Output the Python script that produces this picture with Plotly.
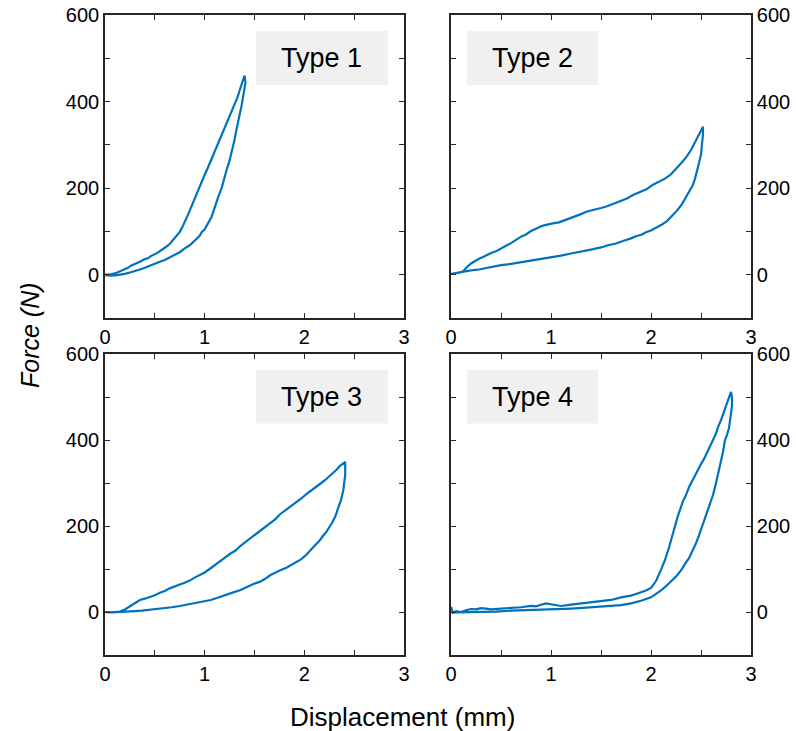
import plotly.graph_objects as go

# Force-displacement hysteresis loops for four specimen types
# Loading branch (upper) followed by unloading branch (lower), displacement in mm, force in N

t1_load_x = [0, 0.03, 0.06, 0.1, 0.13, 0.16, 0.2, 0.23, 0.26, 0.3, 0.33, 0.36, 0.4, 0.43, 0.46, 0.5, 0.53, 0.56, 0.6, 0.63, 0.66, 0.7, 0.73, 0.75, 0.78, 0.8, 0.83, 0.85, 0.88, 0.9, 0.93, 0.95, 0.98, 1.0, 1.03, 1.05, 1.08, 1.1, 1.13, 1.15, 1.18, 1.2, 1.23, 1.25, 1.28, 1.3, 1.33, 1.35, 1.37, 1.39, 1.4]
t1_load_y = [0, 0, 1, 3, 6, 10, 14, 16, 21, 25, 27, 31, 36, 38, 43, 47, 51, 56, 62, 67, 74, 84, 92, 99, 112, 121, 137, 148, 165, 176, 194, 204, 220, 231, 246, 257, 272, 285, 298, 310, 326, 337, 353, 365, 380, 394, 410, 425, 438, 452, 460]
t1_unload_x = [1.4, 1.41, 1.4, 1.39, 1.38, 1.37, 1.36, 1.34, 1.33, 1.31, 1.3, 1.28, 1.26, 1.25, 1.22, 1.2, 1.17, 1.14, 1.12, 1.09, 1.07, 1.04, 1.0, 0.97, 0.95, 0.92, 0.9, 0.85, 0.8, 0.75, 0.7, 0.65, 0.6, 0.55, 0.5, 0.45, 0.4, 0.35, 0.3, 0.25, 0.2, 0.16, 0.12, 0.06, 0]
t1_unload_y = [460, 445, 428, 415, 398, 390, 380, 360, 346, 325, 312, 290, 275, 264, 242, 225, 200, 182, 166, 148, 134, 121, 105, 98, 90, 83, 78, 68, 61, 52, 46, 40, 34, 30, 25, 20, 16, 12, 8, 5, 2, 0, -1, -2, -1]

t2_load_x = [0, 0.05, 0.1, 0.13, 0.16, 0.2, 0.24, 0.28, 0.32, 0.36, 0.4, 0.45, 0.49, 0.55, 0.6, 0.65, 0.7, 0.75, 0.8, 0.85, 0.89, 0.93, 0.96, 1.0, 1.03, 1.08, 1.15, 1.22, 1.3, 1.36, 1.42, 1.5, 1.56, 1.62, 1.7, 1.76, 1.82, 1.9, 1.96, 2.02, 2.08, 2.14, 2.2, 2.26, 2.31, 2.36, 2.4, 2.44, 2.47, 2.5, 2.52]
t2_load_y = [2, 4, 5, 10, 18, 26, 32, 37, 41, 46, 50, 54, 60, 67, 73, 81, 88, 93, 101, 106, 111, 114, 116, 118, 119, 121, 127, 132, 140, 146, 149, 154, 158, 163, 171, 176, 184, 193, 198, 208, 215, 222, 232, 246, 260, 274, 288, 306, 320, 334, 342]
t2_unload_x = [2.52, 2.52, 2.51, 2.5, 2.48, 2.46, 2.44, 2.42, 2.39, 2.37, 2.34, 2.31, 2.26, 2.21, 2.16, 2.11, 2.05, 2.0, 1.95, 1.91, 1.85, 1.8, 1.72, 1.65, 1.57, 1.5, 1.4, 1.3, 1.2, 1.1, 1.0, 0.9, 0.8, 0.69, 0.6, 0.5, 0.4, 0.28, 0.2, 0.1, 0.05, 0]
t2_unload_y = [342, 325, 300, 278, 258, 238, 222, 208, 196, 185, 173, 163, 148, 135, 124, 116, 108, 102, 98, 93, 89, 84, 78, 72, 68, 63, 58, 54, 49, 44, 40, 37, 33, 28, 25, 22, 17, 12, 10, 6, 3, 2]

t3_load_x = [0, 0.05, 0.1, 0.15, 0.2, 0.24, 0.28, 0.32, 0.35, 0.4, 0.45, 0.5, 0.55, 0.6, 0.65, 0.7, 0.75, 0.8, 0.85, 0.9, 0.95, 1.0, 1.05, 1.1, 1.15, 1.2, 1.26, 1.31, 1.36, 1.41, 1.46, 1.51, 1.56, 1.61, 1.66, 1.71, 1.76, 1.82, 1.87, 1.92, 1.97, 2.02, 2.07, 2.12, 2.17, 2.21, 2.25, 2.29, 2.32, 2.35, 2.37, 2.39, 2.41]
t3_load_y = [0, -1, 0, 1, 6, 12, 18, 23, 28, 31, 35, 39, 45, 49, 55, 60, 64, 68, 73, 80, 86, 92, 100, 108, 117, 126, 136, 143, 154, 163, 172, 182, 191, 198, 208, 216, 228, 238, 248, 256, 264, 274, 282, 291, 300, 307, 315, 322, 330, 338, 342, 346, 349]
t3_unload_x = [2.41, 2.41, 2.41, 2.4, 2.39, 2.37, 2.35, 2.33, 2.31, 2.28, 2.25, 2.22, 2.18, 2.15, 2.11, 2.07, 2.02, 1.97, 1.92, 1.87, 1.82, 1.77, 1.72, 1.66, 1.6, 1.55, 1.5, 1.43, 1.36, 1.28, 1.2, 1.13, 1.06, 0.98, 0.9, 0.82, 0.75, 0.67, 0.6, 0.52, 0.45, 0.37, 0.3, 0.22, 0.14, 0.07, 0]
t3_unload_y = [349, 335, 318, 300, 282, 262, 248, 236, 222, 208, 196, 186, 175, 165, 156, 145, 133, 123, 116, 108, 103, 98, 92, 86, 76, 70, 66, 58, 51, 45, 38, 33, 28, 24, 20, 17, 14, 11, 9, 6, 5, 3, 2, 1, 0, -1, 0]

t4_load_x = [0, 0.02, 0.05, 0.1, 0.15, 0.2, 0.25, 0.3, 0.35, 0.4, 0.5, 0.6, 0.7, 0.8, 0.85, 0.9, 0.95, 1.0, 1.05, 1.1, 1.2, 1.3, 1.4, 1.5, 1.6, 1.7, 1.8, 1.85, 1.9, 1.95, 2.0, 2.05, 2.1, 2.14, 2.18, 2.22, 2.27, 2.32, 2.35, 2.38, 2.44, 2.5, 2.53, 2.56, 2.62, 2.65, 2.67, 2.7, 2.72, 2.74, 2.76, 2.78, 2.8]
t4_load_y = [12, -2, 2, 0, 4, 7, 6, 9, 8, 6, 8, 9, 11, 14, 13, 17, 20, 18, 16, 14, 17, 20, 22, 26, 28, 34, 38, 42, 46, 50, 56, 72, 98, 121, 150, 184, 224, 258, 272, 290, 318, 344, 356, 372, 400, 415, 430, 446, 460, 470, 487, 500, 512]
t4_unload_x = [2.8, 2.81, 2.81, 2.8, 2.79, 2.78, 2.76, 2.74, 2.72, 2.7, 2.68, 2.65, 2.62, 2.58, 2.55, 2.52, 2.48, 2.45, 2.41, 2.38, 2.34, 2.31, 2.26, 2.2, 2.15, 2.1, 2.05, 2.0, 1.9, 1.8, 1.7, 1.6, 1.5, 1.35, 1.2, 1.05, 0.9, 0.75, 0.6, 0.45, 0.3, 0.2, 0.1, 0.05, 0]
t4_unload_y = [512, 500, 480, 462, 445, 428, 412, 400, 372, 350, 326, 300, 272, 245, 220, 200, 178, 160, 140, 125, 112, 100, 85, 70, 60, 50, 42, 34, 26, 20, 16, 14, 12, 10, 8, 7, 5, 4, 3, 1, 0, -1, -2, -1, 0]

panel_labels = ["Type 1", "Type 2", "Type 3", "Type 4"]
x_ticks = [0, 0.5, 1, 1.5, 2, 2.5, 3]
x_ticktext = ["0", "", "1", "", "2", "", "3"]
y_ticks = [0, 100, 200, 300, 400, 500, 600]
y_ticktext = ["0", "", "200", "", "400", "", "600"]

loops = [
    (t1_load_x + t1_unload_x, t1_load_y + t1_unload_y),
    (t2_load_x + t2_unload_x, t2_load_y + t2_unload_y),
    (t3_load_x + t3_unload_x, t3_load_y + t3_unload_y),
    (t4_load_x + t4_unload_x, t4_load_y + t4_unload_y),
]

W, H = 796, 731
FONT = "Liberation Sans, Arial, Helvetica, sans-serif"
AXC = "#262626"
LINE = "#0072BD"

# panel rectangles in pixels: (left, right, top, bottom)
boxes = [(105, 404, 15, 318), (451, 751, 15, 318), (105, 404, 354, 655), (451, 751, 354, 655)]

fig = go.Figure()
for i, (xs, ys) in enumerate(loops):
    n = "" if i == 0 else str(i + 1)
    fig.add_trace(go.Scatter(x=xs, y=ys, mode="lines", xaxis="x" + n, yaxis="y" + n,
                             line=dict(color=LINE, width=2.2), showlegend=False, hoverinfo="skip"))

axis_common = dict(showline=True, linecolor=AXC, linewidth=1.6, mirror="allticks", ticks="inside",
                   ticklen=5, tickwidth=1.4, tickcolor=AXC, showgrid=False, zeroline=False,
                   automargin=False, tickfont=dict(family=FONT, size=20, color="black"))

layout = dict(width=W, height=H, margin=dict(l=0, r=0, t=0, b=0, autoexpand=False),
              paper_bgcolor="white", plot_bgcolor="white", showlegend=False)

shapes = []
annotations = []
for i, (l, r, t, b) in enumerate(boxes):
    n = "" if i == 0 else str(i + 1)
    layout["xaxis" + n] = dict(axis_common, domain=[l / W, r / W], range=[0, 3],
                               tickvals=x_ticks, ticktext=x_ticktext, anchor="y" + n)
    layout["yaxis" + n] = dict(axis_common, domain=[1 - b / H, 1 - t / H], range=[-100, 600],
                               tickvals=y_ticks, ticktext=y_ticktext, anchor="x" + n,
                               side="left" if i % 2 == 0 else "right")
    # grey label box in the upper part of each panel
    bx0, bx1 = (0.505, 0.946) if i % 2 == 0 else (0.053, 0.49)
    shapes.append(dict(type="rect", xref="x" + n + " domain", yref="y" + n + " domain",
                       x0=bx0, x1=bx1, y0=0.769, y1=0.947, fillcolor="#f0f0f0",
                       line=dict(width=0), layer="below"))
    annotations.append(dict(xref="x" + n + " domain", yref="y" + n + " domain",
                            x=(bx0 + bx1) / 2, y=0.858, text=panel_labels[i], showarrow=False,
                            xanchor="center", yanchor="middle",
                            font=dict(family=FONT, size=27, color="black")))

annotations.append(dict(xref="paper", yref="paper", x=402 / W, y=1 - 717 / H,
                        text="Displacement (mm)", showarrow=False, xanchor="center", yanchor="middle",
                        font=dict(family=FONT, size=26, color="black")))
annotations.append(dict(xref="paper", yref="paper", x=30 / W, y=1 - 335 / H,
                        text="<i>Force (N)</i>", showarrow=False, textangle=-90,
                        xanchor="center", yanchor="middle",
                        font=dict(family=FONT, size=25, color="black")))

layout["shapes"] = shapes
layout["annotations"] = annotations
fig.update_layout(**layout)
fig.write_html("out.html")
